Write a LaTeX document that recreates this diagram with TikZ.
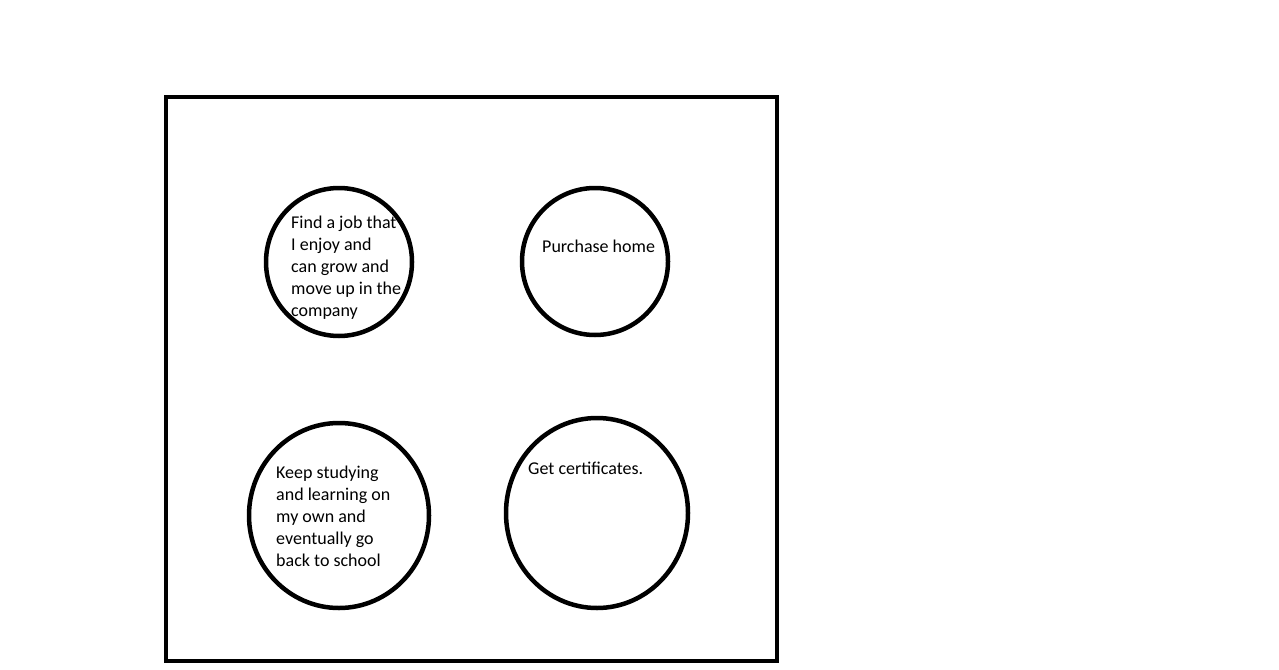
\documentclass[tikz,border=0pt]{standalone}
\usepackage{fontspec}
\setmainfont{Carlito}
\usetikzlibrary{shapes.geometric}
\begin{document}
\begin{tikzpicture}[x=1pt,y=-1pt,
  goal/.style={draw=black,line width=4.5pt,ellipse,inner sep=0pt},
  goaltext/.style={anchor=base west,inner sep=0pt,align=left,
    font=\fontsize{18}{22}\selectfont}]
\useasboundingbox (0,0) rectangle (1279,669);
% outer frame
\node[draw=black,line width=4pt,minimum width=611pt,minimum height=564pt,inner sep=0pt] (frame) at (471.5,379) {};
% goal circles
\node[goal,minimum width=146pt,minimum height=148pt] (job) at (339,262) {};
\node[goal,minimum width=146pt,minimum height=147pt] (home) at (595,261.5) {};
\node[goal,minimum width=180pt,minimum height=185pt] (study) at (339,515.5) {};
\node[goal,minimum width=182pt,minimum height=190pt] (cert) at (597,513) {};
% labels (multi-line labels are placed by the baseline of their last line)
\node[goaltext] (jobtext) at (291,316) {Find a job that\\I enjoy and\\can grow and\\move up in the\\company};
\node[goaltext] (hometext) at (542,252) {Purchase home};
\node[goaltext] (studytext) at (276,566) {Keep studying\\and learning on\\my own and\\eventually go\\back to school};
\node[goaltext] (certtext) at (528,474) {Get certificates.};
\end{tikzpicture}
\end{document}
